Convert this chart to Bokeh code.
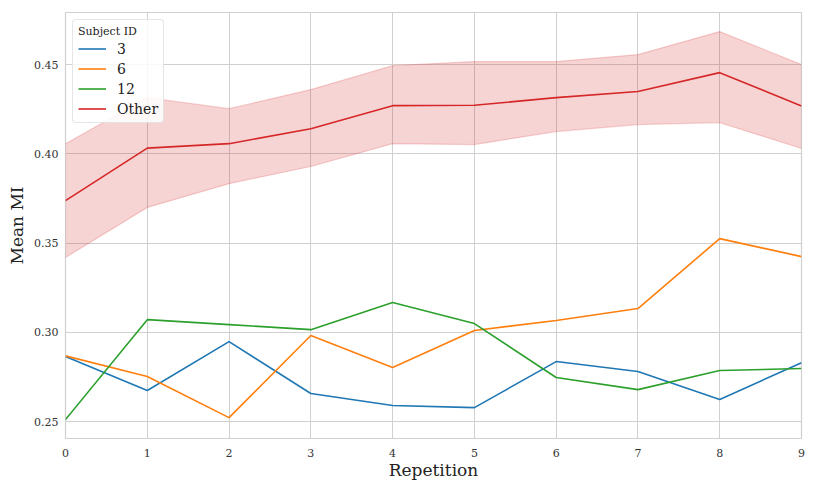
from bokeh.plotting import figure
from bokeh.models import Range1d, FixedTicker, Legend, LegendItem, PrintfTickFormatter
from bokeh.embed import file_html
from bokeh.resources import INLINE

repetition = [0, 1, 2, 3, 4, 5, 6, 7, 8, 9]
subj_3 = [0.2864, 0.2674, 0.2948, 0.2657, 0.2590, 0.2578, 0.2836, 0.2780, 0.2623, 0.2830]
subj_6 = [0.2868, 0.2752, 0.2522, 0.2982, 0.2803, 0.3010, 0.3066, 0.3133, 0.3525, 0.3424]
subj_12 = [0.2511, 0.3071, 0.3043, 0.3015, 0.3167, 0.3049, 0.2747, 0.2679, 0.2786, 0.2797]
other_mean = [0.3738, 0.4032, 0.4057, 0.4141, 0.4270, 0.4272, 0.4315, 0.4349, 0.4455, 0.4268]
other_upper = [0.4057, 0.4315, 0.4253, 0.4360, 0.4494, 0.4517, 0.4517, 0.4556, 0.4685, 0.4500]
other_lower = [0.3419, 0.3700, 0.3833, 0.3929, 0.4057, 0.4052, 0.4125, 0.4164, 0.4175, 0.4030]
y_ticks = [0.25, 0.30, 0.35, 0.40, 0.45]

FONT = "DejaVu Serif"
GRID = "#d0d0d0"

p = figure(width=810, height=483, output_backend="svg", toolbar_location=None,
           x_range=Range1d(0, 9), y_range=Range1d(0.2405, 0.4792),
           min_border_left=65, min_border_right=9, min_border_top=12, min_border_bottom=45)

p.outline_line_color = GRID
p.outline_line_width = 1.2
p.background_fill_color = "white"
p.border_fill_color = "white"

p.xgrid.grid_line_color = GRID
p.ygrid.grid_line_color = GRID
p.xgrid.grid_line_width = 1
p.ygrid.grid_line_width = 1

p.xaxis.ticker = FixedTicker(ticks=repetition)
p.yaxis.ticker = FixedTicker(ticks=y_ticks)
p.yaxis.formatter = PrintfTickFormatter(format="%.2f")
for ax in (p.xaxis, p.yaxis):
    ax.axis_line_color = None
    ax.major_tick_line_color = None
    ax.minor_tick_line_color = None
    ax.major_tick_in = 0
    ax.major_tick_out = 0
    ax.minor_tick_in = 0
    ax.minor_tick_out = 0
    ax.major_label_text_font = FONT
    ax.major_label_text_font_size = "11px"
    ax.major_label_text_color = "#333333"
    ax.axis_label_text_font = FONT
    ax.axis_label_text_font_size = "17px"
    ax.axis_label_text_font_style = "normal"
    ax.axis_label_text_color = "#222222"
p.xaxis.axis_label = "Repetition"
p.yaxis.axis_label = "Mean MI"
p.xaxis.major_label_standoff = 10
p.yaxis.major_label_standoff = 7
p.xaxis.axis_label_standoff = 0
p.yaxis.axis_label_standoff = 4

red = "#d62728"
p.varea(x=repetition, y1=other_lower, y2=other_upper, fill_color=red, fill_alpha=0.2)
p.line(repetition, other_upper, line_color=red, line_alpha=0.2, line_width=1.2)
p.line(repetition, other_lower, line_color=red, line_alpha=0.2, line_width=1.2)

r3 = p.line(repetition, subj_3, line_color="#1f77b4", line_width=1.6)
r6 = p.line(repetition, subj_6, line_color="#ff7f0e", line_width=1.6)
r12 = p.line(repetition, subj_12, line_color="#2ca02c", line_width=1.6)
ro = p.line(repetition, other_mean, line_color=red, line_width=1.6)

legend = Legend(items=[LegendItem(label="3", renderers=[r3]),
                       LegendItem(label="6", renderers=[r6]),
                       LegendItem(label="12", renderers=[r12]),
                       LegendItem(label="Other", renderers=[ro])],
                location="top_left")
legend.title = "Subject ID"
legend.title_text_font = FONT
legend.title_text_font_size = "11px"
legend.title_text_font_style = "normal"
legend.title_text_color = "#222222"
legend.title_text_align = "center"
legend.title_standoff = 2
legend.label_text_font = FONT
legend.label_text_font_size = "14px"
legend.label_text_color = "#222222"
legend.border_line_color = "#cccccc"
legend.border_line_width = 1
legend.border_radius = 4
legend.background_fill_alpha = 0.85
legend.glyph_width = 28
legend.glyph_height = 17
legend.label_height = 17
legend.spacing = 3
legend.padding = 5
legend.margin = 7
legend.label_standoff = 11
p.add_layout(legend)

open("out.html", "w").write(file_html(p, INLINE))
